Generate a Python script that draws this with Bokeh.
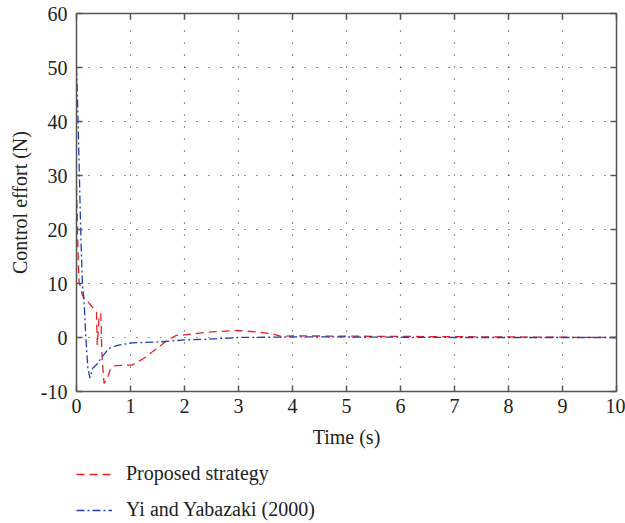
from bokeh.plotting import figure
from bokeh.layouts import column
from bokeh.models import LinearAxis, Legend, LegendItem, Range1d, FixedTicker, CustomJSTickFormatter
from bokeh.embed import file_html
from bokeh.resources import INLINE

# Proposed strategy (red dashed)
prop_t = [0.0, 0.01, 0.02, 0.03, 0.04, 0.05, 0.07, 0.11, 0.14, 0.22, 0.33, 0.37, 0.385, 0.42, 0.45, 0.47, 0.51,
          0.57, 0.63, 0.72, 1.03, 1.24, 1.49, 1.67, 1.85, 2.0, 2.46, 2.98, 3.38, 3.66, 3.8, 4.0, 5.0, 6.0, 7.0, 8.0, 9.0, 10.0]
prop_u = [27.8, 24.0, 19.0, 15.4, 11.6, 10.2, 9.5, 7.8, 7.4, 6.5, 5.2, 4.8, -1.4, 4.2, 4.4, -3.0, -8.5,
          -7.6, -5.8, -5.2, -5.1, -3.9, -2.0, -0.6, 0.4, 0.5, 1.0, 1.3, 1.0, 0.6, 0.2, 0.3, 0.25, 0.2, 0.15, 0.1, 0.05, 0.0]

# Yi and Yabazaki (2000) (blue dash-dot)
yi_t = [0.0, 0.02, 0.05, 0.08, 0.11, 0.14, 0.17, 0.21, 0.25, 0.30, 0.39, 0.48, 0.60, 0.78, 1.03, 1.55, 2.0, 2.46, 3.0, 4.0, 5.0, 6.0, 7.0, 8.0, 9.0, 10.0]
yi_u = [50.0, 43.8, 31.4, 19.0, 9.8, 6.7, 0.5, -5.7, -7.5, -5.7, -4.8, -3.5, -2.0, -1.4, -1.0, -0.8, -0.45, -0.3, 0.0, 0.1, 0.1, 0.05, 0.0, 0.0, 0.0, 0.0]

x_ticks = [0, 1, 2, 3, 4, 5, 6, 7, 8, 9, 10]
y_ticks = [-10, 0, 10, 20, 30, 40, 50, 60]
series_names = ["Proposed strategy", "Yi and Yabazaki (2000)"]

FONT = "Liberation Serif"
FS = "20px"
RED = "#ee1c25"
BLUE = "#2040b0"
RED_DASH = "8 5"
BLUE_DASH = "8 3 2 3"

p = figure(width=625, height=455, output_backend="svg", toolbar_location=None,
           x_range=Range1d(0, 10), y_range=Range1d(-10, 60),
           min_border_left=76, min_border_right=9, min_border_top=13, min_border_bottom=64)
p.outline_line_color = None
p.background_fill_color = "white"

p.line(prop_t, prop_u, line_color=RED, line_dash=RED_DASH, line_width=1.3)
p.line(yi_t, yi_u, line_color=BLUE, line_dash=BLUE_DASH, line_width=1.3)

for ax in [p.xaxis[0], p.yaxis[0]]:
    ax.major_tick_in = 6
    ax.major_tick_out = 0
    ax.minor_tick_in = 0
    ax.minor_tick_out = 0
    ax.axis_line_color = "#555555"
    ax.axis_line_width = 1.5
    ax.major_tick_line_color = "#555555"
    ax.major_tick_line_width = 1.5
    ax.major_label_text_font = FONT
    ax.major_label_text_font_size = FS
    ax.major_label_text_color = "#222222"
    ax.axis_label_text_font = FONT
    ax.axis_label_text_font_size = FS
    ax.axis_label_text_font_style = "normal"
    ax.axis_label_text_color = "#222222"

p.xaxis[0].ticker = FixedTicker(ticks=x_ticks)
p.yaxis[0].ticker = FixedTicker(ticks=y_ticks)
p.xaxis[0].formatter = CustomJSTickFormatter(code="return tick.toString()")
p.yaxis[0].formatter = CustomJSTickFormatter(code="return tick.toString()")
p.xaxis[0].axis_label = "Time (s)"
p.yaxis[0].axis_label = "Control effort (N)"
p.xaxis[0].major_label_standoff = 7
p.yaxis[0].major_label_standoff = 9
p.xaxis[0].axis_label_standoff = 10
p.yaxis[0].axis_label_standoff = 7

top = LinearAxis(ticker=FixedTicker(ticks=x_ticks), formatter=CustomJSTickFormatter(code="return ''"),
                 major_tick_in=6, major_tick_out=0, minor_tick_in=0, minor_tick_out=0,
                 axis_line_color="#555555", axis_line_width=1.5,
                 major_tick_line_color="#555555", major_tick_line_width=1.5,
                 major_label_standoff=0)
right = LinearAxis(ticker=FixedTicker(ticks=y_ticks), formatter=CustomJSTickFormatter(code="return ''"),
                   major_tick_in=6, major_tick_out=0, minor_tick_in=0, minor_tick_out=0,
                   axis_line_color="#555555", axis_line_width=1.5,
                   major_tick_line_color="#555555", major_tick_line_width=1.5,
                   major_label_standoff=0)
p.add_layout(top, "above")
p.add_layout(right, "right")

p.xgrid.ticker = FixedTicker(ticks=x_ticks)
p.ygrid.ticker = FixedTicker(ticks=y_ticks)
for g in [p.xgrid[0], p.ygrid[0]]:
    g.grid_line_color = "#333333"
    g.grid_line_dash = "1 11"
    g.grid_line_width = 1.2

# Legend strip below the chart (series drawn out of view; only the legend shows)
q = figure(width=625, height=68, output_backend="svg", toolbar_location=None,
           x_range=Range1d(0, 10), y_range=Range1d(1000, 1001),
           min_border_left=72, min_border_right=0, min_border_top=7, min_border_bottom=0,
           x_axis_type=None, y_axis_type=None)
q.outline_line_color = None
q.xgrid.visible = False
q.ygrid.visible = False
k1 = q.line(prop_t, prop_u, line_color=RED, line_dash=RED_DASH, line_width=1.3)
k2 = q.line(yi_t, yi_u, line_color=BLUE, line_dash=BLUE_DASH, line_width=1.3)
legend = Legend(items=[LegendItem(label=series_names[0], renderers=[k1]),
                       LegendItem(label=series_names[1], renderers=[k2])],
                orientation="vertical", location="top_left")
legend.label_text_font = FONT
legend.label_text_font_size = FS
legend.label_text_color = "#222222"
legend.border_line_color = None
legend.background_fill_alpha = 0
legend.glyph_width = 36
legend.label_standoff = 14
legend.spacing = 13
legend.margin = 0
legend.padding = 4
q.add_layout(legend, "center")

layout = column(p, q, spacing=0)
open("out.html", "w").write(file_html(layout, INLINE))
